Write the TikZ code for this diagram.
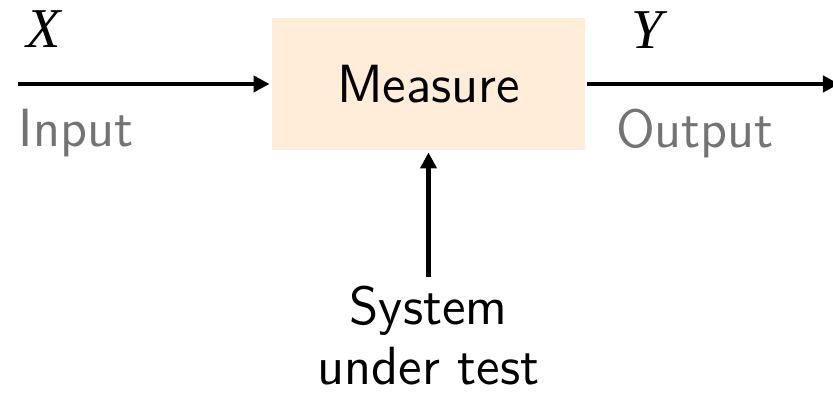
\documentclass[tikz,border=0pt]{standalone}
\usepackage{fontspec}
\newfontfamily\varfont{Liberation Serif}
\usetikzlibrary{positioning,arrows.meta}

\begin{document}
\begin{tikzpicture}[>={Triangle[length=0.16cm,width=0.16cm]}, line width=1.4pt,
    font=\fontsize{15.3}{17}\selectfont\sffamily]
  \tikzset{
    block/.style={fill=orange!15, minimum width=3.13cm, minimum height=1.32cm},
    sig/.style={anchor=base, font=\fontsize{16}{17}\selectfont\varfont\itshape},
    port/.style={anchor=base, text=black!55}
  }
  \useasboundingbox (0,0) rectangle (8.33,4.02);

  \node[block] (meas) at (4.285,3.18) {Measure};
  \coordinate (in) at (0.18,3.18);
  \coordinate (out) at (8.39,3.18);

  \draw[->] (in) -- (meas.west);
  \draw[->] (meas.east) -- (out);

  \node[sig] (x) at (0.44,3.54) {X};
  \node[sig] (y) at (6.47,3.53) {Y};
  \node[port] (inlbl) at (0.76,2.55) {Input};
  \node[port] (outlbl) at (6.95,2.54) {Output};

  \node[align=center, anchor=north, inner sep=2pt] (sut) at (4.285,1.25) {System\\under test};
  \draw[->] (sut) -- (meas.south);
\end{tikzpicture}
\end{document}
